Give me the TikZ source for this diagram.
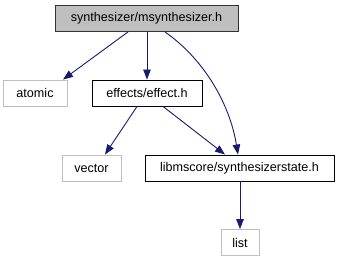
\documentclass[tikz,border=0pt]{standalone}
\usepackage{fontspec}
\setmainfont{Liberation Sans}
\usetikzlibrary{arrows.meta}
\definecolor{edgeblue}{HTML}{191970}
\definecolor{extgray}{HTML}{BFBFBF}
\tikzset{
  file/.style={draw=black, fill=white, line width=0.9pt, inner sep=0pt, minimum height=26pt, font=\fontsize{12.6}{14}\selectfont},
  rootfile/.style={file, fill=extgray, draw=black!80},
  extfile/.style={file, draw=extgray},
  dep/.style={draw=edgeblue, line width=0.9pt, -{Triangle[length=10pt,width=7.5pt]}},
}
\begin{document}
\begin{tikzpicture}[x=1pt,y=-1pt]
  \useasboundingbox (0,0) rectangle (340,261);
  \node[rootfile, minimum width=183pt] (root) at (146.5,18.5) {synthesizer/msynthesizer.h};
  \node[extfile, minimum width=64pt] (atomic) at (35,93) {atomic};
  \node[file, minimum width=110pt] (effect) at (147,93) {effects/effect.h};
  \node[extfile, minimum width=59pt] (vector) at (91.5,168) {vector};
  \node[file, minimum width=189pt] (state) at (239.5,168) {libmscore/synthesizerstate.h};
  \node[extfile, minimum width=38pt] (list) at (240,242.5) {list};

  \draw[dep] (root.south -| 128,0) -- (atomic.north -| 63,0);
  \draw[dep] (root.south -| effect) -- (effect.north);
  \draw[dep] (root.south -| 165,0) .. controls (205,60) and (230,105) .. (state.north -| 238,0);
  \draw[dep] (effect.south -| 137,0) -- (vector.north -| 105,0);
  \draw[dep] (effect.south -| 163,0) -- (state.north -| 225,0);
  \draw[dep] (state.south -| list) -- (list.north);
\end{tikzpicture}
\end{document}
